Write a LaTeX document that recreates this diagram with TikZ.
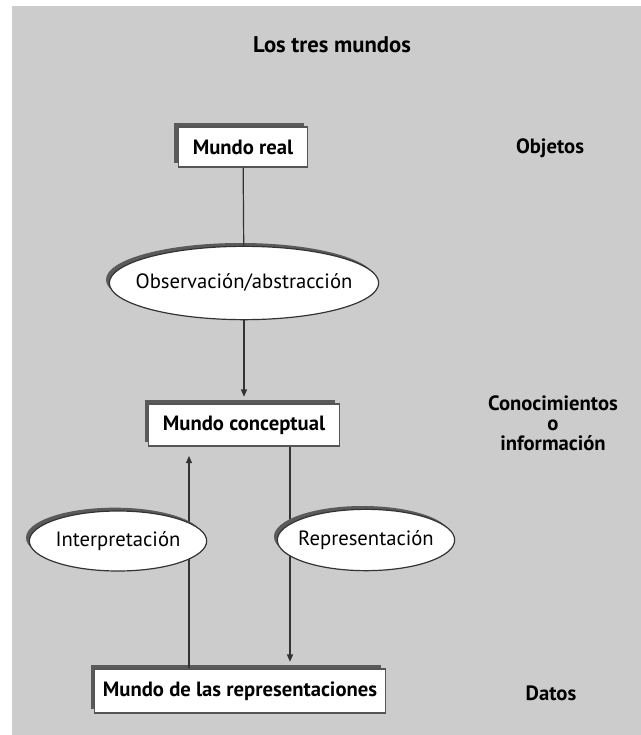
\documentclass[tikz,border=0pt]{standalone}
\usepackage{xcolor}
\usepackage{fontspec}
\setmainfont{PT Sans}
\usepackage{tikz}
\usetikzlibrary{arrows.meta, shapes.geometric, shadows}
\definecolor{ink}{HTML}{333333}
\definecolor{frame}{HTML}{555555}
\definecolor{panel}{HTML}{CCCCCC}
\definecolor{shade}{HTML}{5A5A5A}
% text that does not widen its ellipse
\newcommand{\inoval}[1]{\makebox[0pt]{#1}}

\begin{document}
\begin{tikzpicture}[x=0.75pt, y=-0.75pt,
      world/.style={draw=frame, line width=0.8pt, fill=white,
                    drop shadow={shadow xshift=-3pt, shadow yshift=3pt, fill=shade, opacity=1},
                    font=\fontsize{15.5}{18}\selectfont\bfseries},
      process/.style={ellipse, draw=ink, line width=0.9pt, fill=white, inner sep=0pt,
                      drop shadow={shadow xshift=-2.5pt, shadow yshift=2.5pt, fill=shade, opacity=1},
                      font=\fontsize{15.5}{18}\selectfont},
      level/.style={font=\fontsize{15.5}{15}\selectfont\bfseries, align=center},
      link/.style={ink, line width=0.9pt},
      arrow/.style={link, -{Triangle[length=5.5pt, width=4.5pt]}, shorten >=5pt}]
    \useasboundingbox (0,0) rectangle (641,735);
    \fill[white] (0,0) rectangle (641,735);
    \fill[panel] (12,6) rectangle (641,735);

    \node[level, font=\fontsize{17}{20}\selectfont\bfseries] (title) at (332,45) {Los tres mundos};

    % worlds
    \node[world, minimum width=97pt, minimum height=30pt] (real) at (243,147) {Mundo real};
    \node[process, minimum width=202pt, minimum height=55pt] (obs) at (244,283) {\inoval{Observación/abstracción}};
    \node[world, minimum width=143pt, minimum height=31.5pt] (conc) at (244,425) {Mundo conceptual};
    \node[world, minimum width=218pt, minimum height=33pt, inner xsep=2pt] (rep) at (240,691) {Mundo de las representaciones};

    % levels
    \node[level] (objetos) at (550,148) {Objetos};
    \node[level] (info) at (553,423) {Conocimientos\\o\\información};
    \node[level] (datos) at (551,693) {Datos};

    \coordinate (upx) at (189,0);
    \coordinate (downx) at (290,0);
    \draw[link]  (real) -- (obs);
    \draw[arrow] (obs) -- (conc);
    \draw[arrow, shorten >=7pt] (rep.north -| upx) -- (conc.south -| upx);
    \draw[arrow] (conc.south -| downx) -- (rep.north -| downx);

    \node[process, minimum width=133pt, minimum height=45pt] (interp) at (118,541) {\inoval{Interpretación}};
    \node[process, minimum width=133pt, minimum height=46pt] (repr) at (366,540) {\inoval{Representación}};
  \end{tikzpicture}
\end{document}
